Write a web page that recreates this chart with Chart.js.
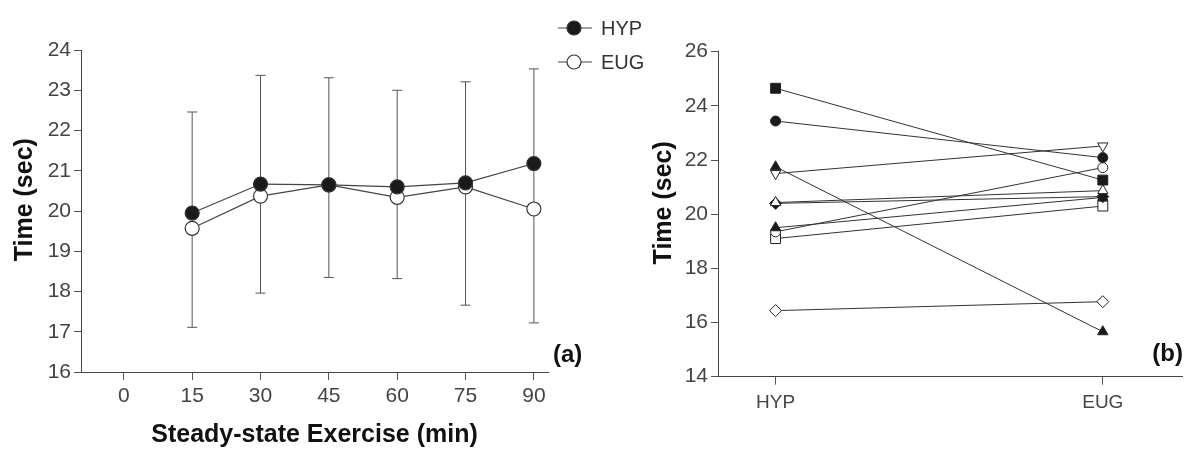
<!DOCTYPE html>
<html><head><meta charset="utf-8">
<script src="https://cdn.jsdelivr.net/npm/chart.js@4.4.1/dist/chart.umd.min.js"></script>
<style>
html,body{margin:0;padding:0;background:#fff;}
#wrap{position:relative;width:1190px;height:450px;overflow:hidden;background:#fff;}
#ca{position:absolute;left:0;top:0;}
#cb{position:absolute;left:640px;top:0;}
</style></head><body>
<div id="wrap"><canvas id="ca" width="660" height="450"></canvas><canvas id="cb" width="550" height="450"></canvas></div>
<script>
// ---------- Panel (a) data ----------
const timePoints = [15, 30, 45, 60, 75, 90];
const hypMean = [19.95, 20.67, 20.65, 20.60, 20.70, 21.18];
const eugMean = [19.57, 20.37, 20.65, 20.34, 20.60, 20.05];
const errTop = [22.46, 23.37, 23.31, 23.00, 23.21, 23.53];
const errBottom = [17.11, 17.96, 18.35, 18.32, 17.66, 17.22];
const xTicksA = [0, 15, 30, 45, 60, 75, 90];
const yTicksA = [16, 17, 18, 19, 20, 21, 22, 23, 24];
const seriesNames = ['HYP', 'EUG'];

// ---------- Panel (b) data ----------
const conditions = ['HYP', 'EUG'];
const subjHYP = [24.65, 23.44, 21.75, 21.50, 20.43, 20.40, 19.50, 19.35, 19.10, 16.44];
const subjEUG = [21.26, 22.09, 15.66, 22.52, 20.87, 20.65, 20.62, 21.72, 20.30, 16.77];
const yTicksB = [14, 16, 18, 20, 22, 24, 26];

// ---------- styles ----------
const FONT = "'Liberation Sans', Arial, sans-serif";
const subjMarkers = [
  {s:'rect', r:7, fill:true, rot:0},
  {s:'circle', r:5, fill:true, rot:0},
  {s:'triangle', r:6, fill:true, rot:0},
  {s:'triangle', r:6, fill:false, rot:180},
  {s:'triangle', r:6, fill:false, rot:0},
  {s:'rectRot', r:6, fill:true, rot:0},
  {s:'triangle', r:6, fill:true, rot:0},
  {s:'circle', r:5, fill:false, rot:0},
  {s:'rect', r:7, fill:false, rot:0},
  {s:'rectRot', r:6, fill:false, rot:0}
];

const axisCommon = (ticksArr) => ({
  afterBuildTicks: s => { s.ticks = ticksArr.map(v => ({value: v})); },
  grid: {display: true, drawOnChartArea: false, drawTicks: true, tickLength: 7, color: '#555', lineWidth: 1},
  border: {display: true, color: '#444', width: 1}
});

// y-axis title drawn slightly above centre, as in the reference
const yTitle = (xPos) => ({
  id: 'yTitle',
  afterDraw(chart) {
    const {ctx, chartArea} = chart;
    ctx.save();
    ctx.translate(xPos, chartArea.top + (chartArea.bottom - chartArea.top) * 0.465);
    ctx.rotate(-Math.PI / 2);
    ctx.font = `bold 25px ${FONT}`;
    ctx.fillStyle = '#111';
    ctx.textAlign = 'center'; ctx.textBaseline = 'middle';
    ctx.fillText('Time (sec)', 0, 0);
    ctx.restore();
  }
});

// error bars plugin
const errorBars = {
  id: 'errorBars',
  beforeDatasetsDraw(chart) {
    const {ctx, scales: {x, y}} = chart;
    ctx.save();
    ctx.strokeStyle = '#555';
    ctx.lineWidth = 1;
    timePoints.forEach((t, i) => {
      const px = x.getPixelForValue(t);
      const yt = y.getPixelForValue(errTop[i]);
      const yb = y.getPixelForValue(errBottom[i]);
      ctx.beginPath();
      ctx.moveTo(px, yt); ctx.lineTo(px, yb);
      ctx.moveTo(px - 5, yt); ctx.lineTo(px + 5, yt);
      ctx.moveTo(px - 5, yb); ctx.lineTo(px + 5, yb);
      ctx.stroke();
    });
    ctx.restore();
  }
};

// custom legend + panel label for (a)
const legendA = {
  id: 'legendA',
  afterDraw(chart) {
    const {ctx, chartArea} = chart;
    ctx.save();
    const lx = chartArea.right + 26;
    const rows = [28, 62];
    seriesNames.forEach((name, i) => {
      const ds = chart.data.datasets[i];
      const yy = rows[i];
      ctx.strokeStyle = '#444'; ctx.lineWidth = 1.2;
      ctx.beginPath(); ctx.moveTo(lx - 16, yy); ctx.lineTo(lx + 18, yy); ctx.stroke();
      ctx.beginPath(); ctx.arc(lx, yy, 7, 0, Math.PI * 2);
      ctx.fillStyle = ds.pointBackgroundColor; ctx.fill();
      ctx.strokeStyle = '#333'; ctx.stroke();
      ctx.fillStyle = '#333';
      ctx.font = `20px ${FONT}`;
      ctx.textBaseline = 'middle'; ctx.textAlign = 'left';
      ctx.fillText(name, lx + 27, yy + 1);
    });
    ctx.font = `bold 24px ${FONT}`;
    ctx.fillStyle = '#111';
    ctx.textAlign = 'left'; ctx.textBaseline = 'middle';
    ctx.fillText('(a)', chartArea.right + 5, chartArea.bottom - 17);
    ctx.restore();
  }
};

const labelB = {
  id: 'labelB',
  afterDraw(chart) {
    const {ctx, chartArea} = chart;
    ctx.save();
    ctx.font = `bold 24px ${FONT}`;
    ctx.fillStyle = '#111';
    ctx.textAlign = 'right'; ctx.textBaseline = 'middle';
    ctx.fillText('(b)', chartArea.right + 1, chartArea.bottom - 22);
    ctx.restore();
  }
};

new Chart(document.getElementById('ca'), {
  type: 'line',
  data: {
    datasets: [
      {
        label: seriesNames[0],
        data: timePoints.map((t, i) => ({x: t, y: hypMean[i]})),
        borderColor: '#444', borderWidth: 1.2,
        pointRadius: 7, pointBackgroundColor: '#1a1a1a', pointBorderColor: '#333', pointBorderWidth: 1.2
      },
      {
        label: seriesNames[1],
        data: timePoints.map((t, i) => ({x: t, y: eugMean[i]})),
        borderColor: '#444', borderWidth: 1.2,
        pointRadius: 7, pointBackgroundColor: '#ffffff', pointBorderColor: '#333', pointBorderWidth: 1.2
      }
    ]
  },
  options: {
    responsive: false, animation: false, devicePixelRatio: 1,
    layout: {padding: {top: 50, right: 112, left: 0, bottom: 0}},
    plugins: {legend: {display: false}, tooltip: {enabled: false}},
    scales: {
      x: Object.assign(axisCommon(xTicksA), {
        type: 'linear', min: -9.4, max: 93.1, position: 'bottom',
        grid: {display: true, drawOnChartArea: false, drawTicks: true, tickLength: 8, color: '#555'},
        ticks: {color: '#444', font: {family: FONT, size: 21}, padding: 4, maxRotation: 0},
        title: {display: true, text: 'Steady-state Exercise (min)', color: '#111',
                font: {family: FONT, size: 25, weight: 'bold'}, padding: {top: 0, bottom: 0}},
        afterFit: s => { s.height = 78; }
      }),
      y: Object.assign(axisCommon(yTicksA), {
        type: 'linear', min: 16, max: 24,
        ticks: {color: '#444', font: {family: FONT, size: 21}, padding: 3},
        afterFit: s => { s.width = 81; }
      })
    }
  },
  plugins: [errorBars, legendA, yTitle(25)]
});

new Chart(document.getElementById('cb'), {
  type: 'line',
  data: {
    datasets: subjHYP.map((h, i) => ({
      label: 'S' + (i + 1),
      data: [{x: 0, y: h}, {x: 1, y: subjEUG[i]}],
      borderColor: '#333', borderWidth: 1,
      pointStyle: subjMarkers[i].s,
      pointRadius: subjMarkers[i].r,
      pointRotation: subjMarkers[i].rot,
      pointBackgroundColor: subjMarkers[i].fill ? '#1a1a1a' : '#ffffff',
      pointBorderColor: '#222', pointBorderWidth: 1
    }))
  },
  options: {
    responsive: false, animation: false, devicePixelRatio: 1,
    layout: {padding: {top: 51.7, right: 4, left: 0, bottom: 0}},
    plugins: {legend: {display: false}, tooltip: {enabled: false}},
    scales: {
      x: Object.assign(axisCommon([0, 1]), {
        type: 'linear', min: -0.176, max: 1.242, position: 'bottom',
        grid: {display: true, drawOnChartArea: false, drawTicks: true, tickLength: 8, color: '#555'},
        ticks: {color: '#444', font: {family: FONT, size: 19}, padding: 7, maxRotation: 0,
                callback: v => conditions[v]},
        afterFit: s => { s.height = 73.3; }
      }),
      y: Object.assign(axisCommon(yTicksB), {
        type: 'linear', min: 14, max: 26,
        ticks: {color: '#444', font: {family: FONT, size: 21}, padding: 3},
        afterFit: s => { s.width = 78; }
      })
    }
  },
  plugins: [labelB, yTitle(24)]
});
</script>
</body></html>
